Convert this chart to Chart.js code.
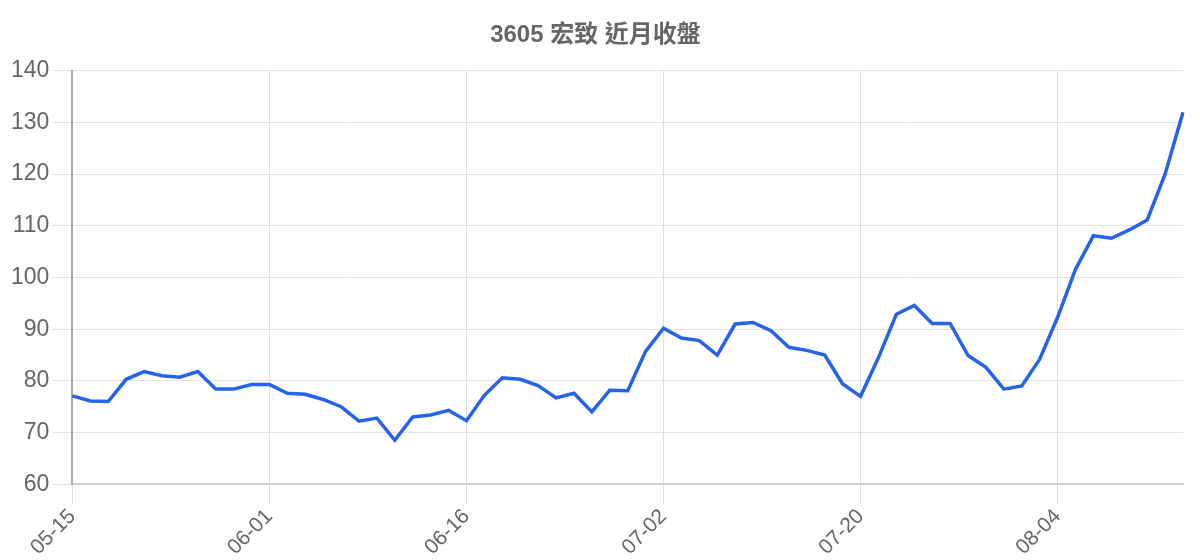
<!DOCTYPE html>
<html>
<head>
<meta charset="utf-8">
<script src="https://cdn.jsdelivr.net/npm/chart.js@4"></script>
<style>
  html, body { margin: 0; padding: 0; background: #fff; }
  #wrap { width: 1200px; height: 560px; }
</style>
</head>
<body>
<div id="wrap"><canvas id="c" width="1200" height="560"></canvas></div>
<script>
const titleText = '3605 宏致 近月收盤';
const dates = [
  '05-15','05-18','05-19','05-20','05-21','05-22','05-25','05-26','05-27','05-28','05-29',
  '06-01','06-02','06-03','06-04','06-05','06-08','06-09','06-10','06-11','06-12','06-15',
  '06-16','06-17','06-18','06-19','06-22','06-23','06-24','06-26','06-29','06-30','07-01',
  '07-02','07-03','07-06','07-07','07-08','07-09','07-10','07-13','07-14','07-15','07-16',
  '07-20','07-21','07-22','07-23','07-24','07-27','07-28','07-29','07-30','07-31','08-03',
  '08-04','08-05','08-06','08-07','08-10','08-11','08-12','08-13'
];
const closes = [
  77.1, 76.1, 76.0, 80.3, 81.8, 81.0, 80.7, 81.8, 78.4, 78.4, 79.3,
  79.3, 77.6, 77.4, 76.4, 75.0, 72.2, 72.8, 68.5, 73.0, 73.4, 74.3,
  72.3, 77.2, 80.6, 80.3, 79.1, 76.7, 77.6, 74.0, 78.2, 78.1, 85.7,
  90.2, 88.3, 87.8, 85.0, 91.0, 91.3, 89.7, 86.5, 85.9, 85.0, 79.4,
  77.0, 84.5, 92.9, 94.6, 91.1, 91.1, 84.9, 82.6, 78.4, 79.0, 84.2,
  92.3, 101.6, 108.1, 107.6, 109.2, 111.1, 120.0, 132.0
];
const yTicks = [60, 70, 80, 90, 100, 110, 120, 130, 140];
const labelEvery = 11;

const FONT = "'Liberation Sans', Arial, 'Noto Sans CJK TC', sans-serif";

new Chart(document.getElementById('c'), {
  type: 'line',
  data: {
    labels: dates,
    datasets: [{
      data: closes,
      borderColor: '#2563eb',
      borderWidth: 3.5,
      pointRadius: 0,
      pointHoverRadius: 0,
      tension: 0,
      fill: false
    }]
  },
  options: {
    responsive: false,
    animation: false,
    devicePixelRatio: 1,
    layout: { padding: { left: 8, right: 17, top: 0, bottom: 0 } },
    plugins: {
      legend: { display: false },
      tooltip: { enabled: false },
      title: {
        display: true,
        text: titleText,
        color: '#666',
        font: { family: FONT, size: 24, weight: 'bold' },
        padding: { top: 21, bottom: 21 }
      }
    },
    scales: {
      x: {
        offset: false,
        grid: { color: '#dedede', tickLength: 20, lineWidth: 1 },
        border: { color: '#d0d0d0', width: 2 },
        ticks: {
          autoSkip: false,
          minRotation: 45,
          maxRotation: 45,
          color: '#666',
          padding: 0,
          font: { family: FONT, size: 21 },
          callback: function(v, i) { return i % labelEvery === 0 ? dates[i] : null; }
        }
      },
      y: {
        min: yTicks[0],
        max: yTicks[yTicks.length - 1],
        afterBuildTicks: function(axis) { axis.ticks = yTicks.map(v => ({ value: v })); },
        grid: { color: '#e2e2e2', tickLength: 20, lineWidth: 1 },
        border: { color: '#aaaaaa', width: 2 },
        ticks: {
          color: '#666',
          padding: 3,
          font: { family: FONT, size: 23 }
        }
      }
    }
  }
});
</script>
</body>
</html>
